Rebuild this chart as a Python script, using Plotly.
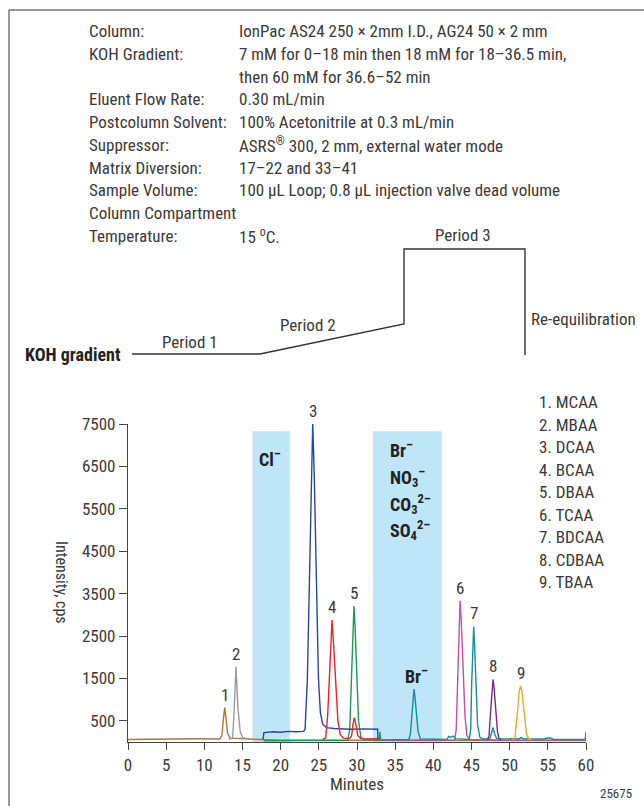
import plotly.graph_objects as go

# ---------------- data ----------------
brown_t = [0, 3, 6, 9, 12.0, 12.3, 12.5, 12.67, 12.85, 13.05, 13.4, 15, 17.7, 20, 25, 30, 35, 40, 45, 50, 55, 60]
brown_v = [60, 70, 65, 75, 70, 150, 550, 810, 550, 200, 90, 80, 70, 40, 40, 40, 35, 35, 35, 35, 35, 35]

gray_t = [13.2, 13.7, 13.9, 14.15, 14.4, 14.7, 15.0, 15.8]
gray_v = [70, 90, 700, 1776, 800, 250, 100, 70]

blue_t = [17.7, 17.8, 19, 20, 21, 22, 23.0, 23.2, 23.5, 23.75, 24.0, 24.2, 24.4, 24.7, 24.95, 25.2, 25.5, 26, 27, 29, 31, 32.7, 32.75]
blue_v = [60, 220, 240, 230, 250, 240, 250, 300, 1500, 3750, 6500, 7520, 6300, 3750, 1500, 700, 420, 340, 320, 300, 310, 300, 60]

red_t = [25.5, 25.9, 26.15, 26.4, 26.6, 26.73, 26.9, 27.2, 27.5, 27.8, 28.2, 29.0, 29.3, 29.5, 29.65, 29.85, 30.1, 30.5, 31.5, 32.8, 33.0]
red_v = [60, 100, 600, 1600, 2600, 2877, 2400, 1440, 500, 180, 90, 80, 150, 450, 573, 420, 150, 80, 70, 75, 60]

green_t = [17.8, 20, 23, 26, 28.8, 29.05, 29.3, 29.5, 29.6, 29.75, 29.96, 30.2, 30.5, 31, 32.9, 33.0, 33.1, 33.5]
green_v = [30, 35, 30, 35, 40, 300, 1600, 3000, 3207, 2700, 1600, 500, 120, 50, 50, 243, 50, 40]

teal_t = [33.2, 35, 36.8, 37.0, 37.16, 37.35, 37.47, 37.6, 37.82, 38.0, 38.3, 40, 41.8, 42.0, 42.3, 42.6, 42.9,
          44.7, 44.9, 45.02, 45.18, 45.29, 45.4, 45.59, 45.8, 46.1, 46.5, 47.4, 47.6, 47.82, 48.0, 48.3,
          51.2, 51.5, 51.8, 54.5, 55.2, 55.8, 59.9, 60]
teal_v = [50, 55, 60, 200, 625, 1100, 1250, 1050, 625, 250, 70, 60, 60, 130, 110, 140, 80,
          60, 300, 1360, 2400, 2720, 2300, 1360, 400, 110, 70, 70, 180, 346, 200, 80,
          70, 110, 70, 70, 100, 60, 60, 243]

magenta_t = [33.2, 38, 42.8, 43.0, 43.19, 43.38, 43.5, 43.65, 43.93, 44.15, 44.4, 44.8, 50, 55, 60]
magenta_v = [40, 40, 50, 300, 1666, 3000, 3332, 2900, 1666, 600, 150, 60, 45, 45, 45]

purple_t = [47.1, 47.3, 47.51, 47.7, 47.82, 47.95, 48.2, 48.4, 48.6, 48.9]
purple_v = [50, 150, 740, 1350, 1478, 1300, 740, 250, 80, 50]

orange_t = [50.4, 50.7, 51.0, 51.25, 51.44, 51.6, 51.92, 52.2, 52.5, 52.9]
orange_v = [50, 120, 660, 1200, 1320, 1200, 660, 200, 70, 50]

# matrix diversion windows (minutes) and their height (cps)
div_start = [16.3, 32.1]
div_end = [21.2, 41.1]
div_top = 7330

peak_numbers = ["1", "2", "3", "4", "5", "6", "7", "8", "9"]
peak_label_t = [12.67, 14.15, 24.2, 26.73, 29.6, 43.5, 45.29, 47.82, 51.44]
peak_label_v = [1120, 2080, 7800, 3190, 3510, 3630, 3050, 1790, 1630]

legend_items = ["1. MCAA", "2. MBAA", "3. DCAA", "4. BCAA", "5. DBAA",
                "6. TCAA", "7. BDCAA", "8. CDBAA", "9. TBAA"]

cond_labels = ["Column:", "KOH Gradient:", "", "Eluent Flow Rate:", "Postcolumn Solvent:",
               "Suppressor:", "Matrix Diversion:", "Sample Volume:", "Column Compartment", "Temperature:"]
cond_values = ["IonPac AS24 250 × 2mm I.D., AG24 50 × 2 mm",
               "7 mM for 0–18 min then 18 mM for 18–36.5 min,",
               "then 60 mM for 36.6–52 min",
               "0.30 mL/min",
               "100% Acetonitrile at 0.3 mL/min",
               "ASRS<sup>®</sup> 300, 2 mm, external water mode",
               "17–22 and 33–41",
               "100 µL Loop; 0.8 µL injection valve dead volume",
               "",
               "15 <sup>o</sup>C."]

x_ticks = list(range(0, 61, 5))
y_ticks = [500, 1500, 2500, 3500, 4500, 5500, 6500, 7500]

# ---------------- layout helpers ----------------
W, H = 644, 806
L, R, T, B = 128, 586, 424, 742
FONT = "Liberation Sans Narrow, Roboto Condensed, DejaVu Sans Condensed, Liberation Sans, sans-serif"
TXT = "#3a3a3a"


def px(xp):
    return (xp - L) / (R - L)


def py(yp):
    return (B - yp) / (B - T)


fig = go.Figure()

series = [
    (brown_t, brown_v, "#a8773a"),
    (gray_t, gray_v, "#9a9a9a"),
    (green_t, green_v, "#1c9a55"),
    (blue_t, blue_v, "#2b45a6"),
    (red_t, red_v, "#ec2229"),
    (magenta_t, magenta_v, "#c24fa9"),
    (teal_t, teal_v, "#14918f"),
    (purple_t, purple_v, "#7a2a8e"),
    (orange_t, orange_v, "#f7a428"),
]
for t, v, c in series:
    fig.add_trace(go.Scatter(x=t, y=v, mode="lines", line=dict(color=c, width=1.4),
                             hoverinfo="skip", showlegend=False))

shapes = []
for s, e in zip(div_start, div_end):
    shapes.append(dict(type="rect", xref="x", yref="y", x0=s, x1=e, y0=0, y1=div_top,
                       fillcolor="#bfe5f8", line=dict(width=0), layer="below"))

# frame
shapes.append(dict(type="line", xref="paper", yref="paper", x0=px(9), x1=px(9), y0=py(10), y1=py(810),
                   line=dict(color="#333333", width=1)))
shapes.append(dict(type="line", xref="paper", yref="paper", x0=px(9), x1=px(650), y0=py(10), y1=py(10),
                   line=dict(color="#333333", width=1)))
# KOH gradient program sketch
gp = [(132, 354), (260, 354), (404, 324), (404, 249), (525, 249), (525, 355)]
path = "M " + " L ".join(f"{px(a):.5f},{py(b):.5f}" for a, b in gp)
shapes.append(dict(type="path", xref="paper", yref="paper", path=path,
                   line=dict(color="#333333", width=1.4)))

ann = []


def note(text, x, y, size=17, anchor="left", bold=False, color=TXT, angle=0):
    if bold:
        text = "<b>" + text + "</b>"
    ann.append(dict(text=text, x=px(x), y=py(y), xref="paper", yref="paper", showarrow=False,
                    xanchor=anchor, yanchor="middle", textangle=angle,
                    font=dict(family=FONT, size=size, color=color)))


row_y = [31, 54, 77, 99, 122, 145, 168, 190, 213, 236]
for lab, val, yy in zip(cond_labels, cond_values, row_y):
    if lab:
        note(lab, 87, yy)
    if val:
        note(val, 237, yy)

note("KOH gradient", 23, 354, size=18, bold=True, color="#222222")
note("Period 1", 190, 342, anchor="center")
note("Period 2", 308, 325, anchor="center")
note("Period 3", 463, 235, anchor="center")
note("Re-equilibration", 529, 319)

for i, item in enumerate(legend_items):
    note(item, 537, 402 + i * 22.5)

# peak numbers, placed in axis fractions computed from the data values
for n, t, v in zip(peak_numbers, peak_label_t, peak_label_v):
    ann.append(dict(text=n, x=t / 60, y=v / 7500, xref="paper", yref="paper", showarrow=False,
                    xanchor="center", yanchor="middle", font=dict(family=FONT, size=17, color=TXT)))

note("Cl<sup>–</sup>", 257, 458, size=18, bold=True, color="#222222")
note("Br<sup>–</sup>", 388, 449, size=18, bold=True, color="#222222")
note("NO<sub>3</sub><sup>–</sup>", 388, 477, size=18, bold=True, color="#222222")
note("CO<sub>3</sub><sup>2–</sup>", 388, 504, size=18, bold=True, color="#222222")
note("SO<sub>4</sub><sup>2–</sup>", 388, 530, size=18, bold=True, color="#222222")
note("Br<sup>–</sup>", 403, 675, size=18, bold=True, color="#222222")

note("Intensity, cps", 62, 582, size=16, anchor="center", angle=90)
note("Minutes", 357, 784, size=17, anchor="center")
note("25675", 616, 793, size=13, anchor="center")

fig.update_layout(
    width=W, height=H,
    margin=dict(l=L, r=W - R, t=T, b=H - B, pad=0),
    paper_bgcolor="white", plot_bgcolor="white",
    shapes=shapes, annotations=ann, showlegend=False,
    font=dict(family=FONT, size=17, color=TXT),
    xaxis=dict(range=[0, 60], tickvals=x_ticks, ticks="outside", ticklen=7, tickcolor="#444444",
               showline=True, linecolor="#444444", linewidth=1.2, showgrid=False, zeroline=False,
               tickfont=dict(family=FONT, size=17, color=TXT)),
    yaxis=dict(range=[0, 7500], tickvals=y_ticks, ticks="outside", ticklen=8, tickcolor="#444444",
               showline=True, linecolor="#444444", linewidth=1.2, showgrid=False, zeroline=False,
               tickfont=dict(family=FONT, size=17, color=TXT)),
)

fig.write_html("out.html", config={"displayModeBar": False},
               post_script="document.body.style.margin='0px';document.body.style.padding='0px';")
